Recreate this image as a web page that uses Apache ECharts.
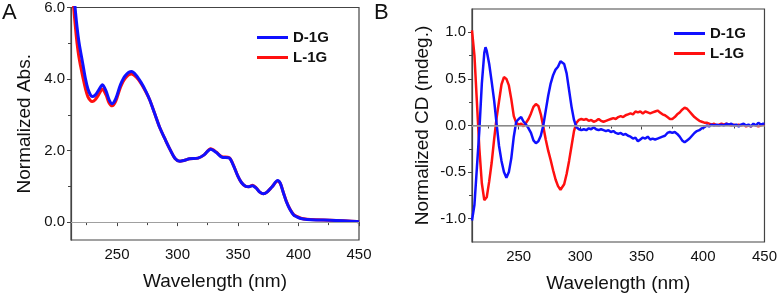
<!DOCTYPE html>
<html>
<head>
<meta charset="utf-8">
<script src="https://cdn.jsdelivr.net/npm/echarts@6/dist/echarts.min.js"></script>
<style>
  html, body { margin: 0; padding: 0; background: #fff; }
  #chart { width: 780px; height: 298px; }
</style>
</head>
<body>
<div id="chart"></div>
<script>
// Panel A: absorption
var absWl = [212, 214, 215.5, 217, 218.5, 220, 222, 224, 226, 228, 229.5, 232, 235, 238, 241, 243.5, 246, 249, 253, 257, 262, 266, 270, 274, 277, 281, 285.5, 290, 294, 298, 302, 306, 310, 317, 322, 327.4, 332, 336.5, 342.8, 346, 350, 353, 356.4, 359, 362, 365, 368, 371, 374, 378, 382.8, 385, 387.5, 390, 393, 396, 398.5, 402, 407, 415, 426, 437, 448, 450];
var absD = [7.6, 6.55, 5.95, 5.45, 5.05, 4.75, 4.38, 4.0, 3.72, 3.56, 3.51, 3.55, 3.7, 3.84, 3.66, 3.42, 3.31, 3.45, 3.85, 4.1, 4.21, 4.1, 3.9, 3.65, 3.42, 3.05, 2.63, 2.3, 2.02, 1.78, 1.7, 1.73, 1.77, 1.79, 1.88, 2.04, 1.95, 1.82, 1.79, 1.6, 1.28, 1.1, 1.0, 0.99, 1.02, 0.95, 0.84, 0.79, 0.84, 0.98, 1.16, 1.08, 0.82, 0.57, 0.35, 0.2, 0.15, 0.1, 0.075, 0.06, 0.055, 0.04, 0.02, 0.01];
var absL = [7.2, 6.1, 5.5, 5.0, 4.62, 4.35, 4.02, 3.72, 3.5, 3.4, 3.37, 3.42, 3.57, 3.72, 3.55, 3.33, 3.25, 3.38, 3.78, 4.03, 4.14, 4.05, 3.87, 3.63, 3.42, 3.05, 2.63, 2.3, 2.02, 1.78, 1.7, 1.73, 1.77, 1.79, 1.88, 2.05, 1.96, 1.83, 1.8, 1.61, 1.28, 1.1, 1.0, 0.99, 1.03, 0.96, 0.84, 0.79, 0.84, 0.98, 1.15, 1.08, 0.83, 0.58, 0.36, 0.21, 0.16, 0.11, 0.08, 0.065, 0.055, 0.04, 0.02, 0.01];

// Panel B: CD
var cdWl = [212, 214, 216, 218, 220, 222, 223, 224, 226, 228, 230, 232, 234, 236, 238, 240, 242, 244, 246, 248, 250, 252, 254, 256, 258, 260, 262, 264, 266, 268, 270, 272, 274, 276, 278, 280, 282, 284, 285.5, 287, 289, 291, 293, 295, 297, 299, 301, 303, 305, 307, 309, 311, 313, 315, 317, 319, 321, 323, 325, 327, 329, 331, 333, 335, 337, 339, 341, 343, 345, 347, 349, 351, 353, 355, 357, 359, 361, 363, 365, 367, 369, 371, 373, 375, 377, 379, 381, 383, 385, 387, 389, 391, 393, 395, 397, 399, 401, 403, 405, 407, 409, 411, 413, 415, 417, 419, 421, 423, 425, 427, 429, 431, 433, 435, 437, 439, 441, 443, 445, 447, 449, 450];
var cdD = [-1.02, -0.85, -0.45, -0.05, 0.45, 0.78, 0.84, 0.8, 0.66, 0.47, 0.27, 0.02, -0.22, -0.38, -0.5, -0.56, -0.5, -0.35, -0.12, 0.04, 0.07, 0.09, 0.04, 0.01, -0.03, -0.08, -0.16, -0.19, -0.17, -0.11, 0.0, 0.16, 0.32, 0.45, 0.54, 0.6, 0.63, 0.69, 0.71, 0.66, 0.56, 0.38, 0.2, 0.06, -0.02, -0.04, -0.05, -0.04, -0.05, -0.03, -0.04, -0.02, -0.04, -0.05, -0.04, -0.05, -0.06, -0.05, -0.07, -0.06, -0.08, -0.09, -0.08, -0.1, -0.09, -0.11, -0.12, -0.14, -0.13, -0.17, -0.15, -0.13, -0.14, -0.12, -0.15, -0.14, -0.15, -0.14, -0.13, -0.12, -0.11, -0.08, -0.07, -0.08, -0.07, -0.09, -0.12, -0.16, -0.18, -0.16, -0.14, -0.11, -0.08, -0.06, -0.05, -0.03, -0.02, 0.0, -0.01, 0.01, 0.0, 0.01, 0.0, 0.01, 0.0, 0.02, 0.01, 0.02, 0.0, 0.01, -0.01, 0.01, 0.02, 0.0, 0.01, -0.01, 0.02, 0.0, 0.03, 0.01, 0.02, 0.02];
var cdL = [1.02, 0.75, 0.25, -0.25, -0.62, -0.8, -0.81, -0.77, -0.6, -0.4, -0.15, 0.08, 0.26, 0.44, 0.52, 0.5, 0.43, 0.28, 0.1, 0.03, 0.01, 0.02, -0.01, 0.03, 0.07, 0.13, 0.2, 0.23, 0.21, 0.12, -0.01, -0.15, -0.27, -0.37, -0.48, -0.58, -0.65, -0.69, -0.68, -0.63, -0.52, -0.38, -0.22, -0.06, 0.03, 0.06, 0.07, 0.06, 0.07, 0.05, 0.06, 0.04, 0.05, 0.07, 0.05, 0.04, 0.05, 0.06, 0.07, 0.08, 0.07, 0.09, 0.1, 0.09, 0.11, 0.12, 0.13, 0.12, 0.15, 0.14, 0.15, 0.13, 0.15, 0.14, 0.13, 0.14, 0.15, 0.16, 0.14, 0.12, 0.11, 0.09, 0.07, 0.07, 0.09, 0.12, 0.14, 0.17, 0.19, 0.18, 0.15, 0.12, 0.09, 0.07, 0.05, 0.04, 0.03, 0.03, 0.02, 0.01, 0.02, 0.0, 0.01, 0.02, 0.01, 0.02, 0.01, 0.0, 0.01, 0.0, 0.01, 0.0, 0.01, -0.01, 0.0, -0.01, 0.01, 0.0, -0.01, 0.0, 0.01, 0.01];

var xMajor = [250, 300, 350, 400, 450];
var xMinor = [225, 275, 325, 375, 425];
var absMajor = [0, 2, 4, 6];
var absMinor = [1, 3, 5];
var cdMajor = [-1, -0.5, 0, 0.5, 1];
var cdMinor = [-0.75, -0.25, 0.25, 0.75];

function pairs(xs, ys) {
  return xs.map(function (x, i) { return [x, ys[i]]; });
}

var FONT = "Liberation Sans";
var BLUE = "#1010ff";
var RED = "#ff1010";
var AXIS = "#444";

function xAxes(gi) {
  return [
    {
      type: "value", gridIndex: gi, min: 212, max: 450,
      name: "Wavelength (nm)", nameLocation: "middle", nameGap: 32,
      nameTextStyle: { fontFamily: FONT, fontSize: 19, color: "#111" },
      axisLine: { lineStyle: { color: AXIS, width: 1.2 } },
      axisTick: { customValues: xMajor, length: 4, lineStyle: { color: AXIS } },
      axisLabel: { customValues: xMajor, fontFamily: FONT, fontSize: 15, color: "#111", margin: 7 },
      splitLine: { show: false }
    },
    {
      type: "value", gridIndex: gi, min: 212, max: 450, position: "bottom",
      axisLine: { show: false },
      axisTick: { customValues: xMinor, length: 3, lineStyle: { color: AXIS } },
      axisLabel: { show: false },
      splitLine: { show: false }
    }
  ];
}

function yAxes(gi, min, max, major, minor, name, gap) {
  return [
    {
      type: "value", gridIndex: gi, min: min, max: max,
      name: name, nameLocation: "middle", nameGap: gap,
      nameTextStyle: { fontFamily: FONT, fontSize: 19, color: "#111" },
      axisLine: { show: true, lineStyle: { color: AXIS, width: 1.2 } },
      axisTick: { customValues: major, length: 4, lineStyle: { color: AXIS } },
      axisLabel: {
        customValues: major, fontFamily: FONT, fontSize: 15, color: "#111", margin: 6,
        formatter: function (v) { return v.toFixed(1); }
      },
      splitLine: { show: false }
    },
    {
      type: "value", gridIndex: gi, min: min, max: max, position: "left",
      axisLine: { show: false },
      axisTick: { customValues: minor, length: 3, lineStyle: { color: AXIS } },
      axisLabel: { show: false },
      splitLine: { show: false }
    }
  ];
}

function zeroLine(w) {
  return {
    silent: true, symbol: "none", label: { show: false },
    lineStyle: { color: "#a0a0a0", type: "solid", width: w },
    data: [{ yAxis: 0 }]
  };
}

function legendAt(left, top) {
  return {
    left: left, top: top, orient: "vertical",
    data: ["D-1G", "L-1G"], icon: "rect",
    itemWidth: 31, itemHeight: 3, itemGap: 5,
    textStyle: { fontFamily: FONT, fontSize: 15, fontWeight: "bold", color: "#111" }
  };
}

var chart = echarts.init(document.getElementById("chart"));
var option = {
  animation: false,
  backgroundColor: "#fff",
  grid: [
    { left: 71, right: 421, top: 7, bottom: 58, show: true, borderColor: AXIS, borderWidth: 1.2 },
    { left: 472, right: 14, top: 9, bottom: 53, show: true, borderColor: AXIS, borderWidth: 1.2 }
  ],
  legend: [legendAt(252, 25), legendAt(669, 21)],
  xAxis: xAxes(0).concat(xAxes(1)),
  yAxis: yAxes(0, -0.5, 6, absMajor, absMinor, "Normalized Abs.", 37)
    .concat(yAxes(1, -1.25, 1.25, cdMajor, cdMinor, "Normalized CD (mdeg.)", 40)),
  graphic: [
    { type: "text", left: 2, top: 2, style: { text: "A", fontFamily: FONT, fontSize: 22, fill: "#111" } },
    { type: "text", left: 374, top: 2, style: { text: "B", fontFamily: FONT, fontSize: 22, fill: "#111" } }
  ],
  series: [
    {
      name: "L-1G", type: "line", xAxisIndex: 0, yAxisIndex: 0, showSymbol: false, smooth: 0.3,
      color: RED, lineStyle: { width: 3 }, data: pairs(absWl, absL), markLine: zeroLine(1)
    },
    {
      name: "D-1G", type: "line", xAxisIndex: 0, yAxisIndex: 0, showSymbol: false, smooth: 0.3,
      color: BLUE, lineStyle: { width: 3 }, data: pairs(absWl, absD)
    },
    {
      name: "L-1G", type: "line", xAxisIndex: 2, yAxisIndex: 2, showSymbol: false,
      color: RED, lineStyle: { width: 2.5 }, data: pairs(cdWl, cdL), markLine: zeroLine(1.5)
    },
    {
      name: "D-1G", type: "line", xAxisIndex: 2, yAxisIndex: 2, showSymbol: false,
      color: BLUE, lineStyle: { width: 2.5 }, data: pairs(cdWl, cdD)
    }
  ]
};
chart.setOption(option);
</script>
</body>
</html>
